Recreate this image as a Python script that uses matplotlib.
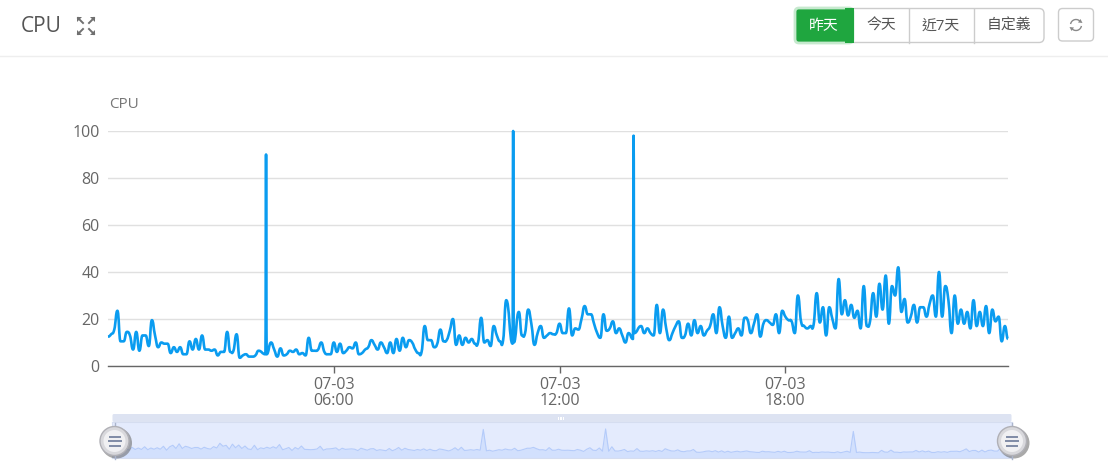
import matplotlib
matplotlib.use('Agg')
import matplotlib.pyplot as plt
import matplotlib.dates as mdates
from matplotlib.patches import FancyBboxPatch, Rectangle, Circle, Arc, Polygon, PathPatch
from matplotlib.path import Path
import numpy as np
import pandas as pd

plt.rcParams['font.family'] = ['Open Sans', 'Noto Sans CJK TC', 'DejaVu Sans']

W, H = 1108, 476

# cpu samples, one every 5 minutes
cpu_values = [
    12.5, 13.5, 15.5, 23.5, 10.5, 10.5, 14.5, 13, 7, 14.5,
    6.5, 13, 13, 8.5, 19.5, 13, 8, 10, 9.5, 9.5,
    5.5, 8, 6, 8, 5, 5, 10.5, 7, 11.5, 7,
    13, 7, 7, 6.5, 7, 4.5, 6, 6, 14.5, 6,
    6.5, 13.5, 3.5, 4.5, 5, 4, 4, 4.5, 6.5, 5,
    90, 5, 10, 7, 4, 7.5, 4.5, 5, 6.5, 6,
    7, 5, 5.5, 4.5, 12, 6.5, 6.5, 7, 10, 6,
    5, 5, 10, 6, 9.5, 5.5, 6.5, 8, 7.5, 10,
    5, 5.5, 7, 8, 11, 9, 7, 10, 8, 5.5,
    10, 5.5, 11.5, 6.5, 12, 8, 11, 10, 7, 5.5,
    6, 17, 11, 11, 8, 9.5, 15.5, 10.5, 11, 15,
    20, 9, 13, 9, 12, 10, 11.5, 9.5, 10, 20.5,
    10, 11, 8.5, 17, 13, 10.5, 11, 28, 9.5, 100,
    10, 23, 13, 14, 24, 18, 9, 14, 17, 12,
    13, 14, 13.5, 14, 18, 14, 14, 24.5, 13, 16,
    15.5, 20, 25.5, 22, 22, 18, 14, 12, 22, 15,
    16, 19, 14, 16, 13, 10, 14, 11.5, 98, 14,
    17, 14, 16, 14, 13, 26, 14, 24, 16, 11,
    14, 17, 19, 12, 13, 18, 13, 19.5, 14, 17,
    13, 15, 17, 22, 14, 25, 17, 12, 21, 12,
    14, 16, 13, 20.5, 19.5, 14, 18, 22, 12.5, 18,
    19.5, 18.5, 17.5, 22, 14, 23.5, 21, 19.5, 19, 14,
    30, 19, 17, 16, 17, 17.5, 31, 18.5, 25, 13,
    25, 20, 16, 37, 22, 28, 21.5, 26, 20.5, 23.5,
    16, 34, 17, 19, 31, 21, 35, 24, 38.5, 18,
    34, 30, 42, 23, 28.5, 18.5, 21, 26, 18.5, 25,
    25, 21, 26.5, 30, 21, 40, 21, 34, 28, 14,
    30, 18, 24, 18, 23, 16, 28, 17, 23, 17,
    25.5, 14, 24, 19, 21, 10.5, 17, 11.5,
]
# the three spikes are logged off the 5 minute grid, with samples tight around them
spike_index = [50, 129, 168]
spike_times = ['2021-07-03 04:12', '2021-07-03 10:46', '2021-07-03 13:58']
y_ticks = [0, 20, 40, 60, 80, 100]
x_tick_times = ['2021-07-03 06:00', '2021-07-03 12:00', '2021-07-03 18:00']
x_tick_labels = ['07-03\n06:00', '07-03\n12:00', '07-03\n18:00']
buttons = ['昨天', '今天', '近7天', '自定義']

times = pd.date_range('2021-07-03 00:00', periods=len(cpu_values), freq='5min').to_series().reset_index(drop=True)
for i, t in zip(spike_index, spike_times):
    t = pd.Timestamp(t)
    times[i - 1], times[i], times[i + 1] = t - pd.Timedelta(minutes=1), t, t + pd.Timedelta(minutes=1)

fig = plt.figure(figsize=(W / 100, H / 100), dpi=100, facecolor='white')


def box(left, top, right, bottom):
    return [left / W, 1 - bottom / H, (right - left) / W, (bottom - top) / H]


def smooth_path(xs, ys):
    # bezier through the samples, flat at every local peak and dip
    xs = np.asarray(xs, dtype=float)
    ys = np.asarray(ys, dtype=float)
    slope = np.zeros(len(ys))
    for i in range(1, len(ys) - 1):
        if (ys[i] - ys[i - 1]) * (ys[i + 1] - ys[i]) > 0:
            slope[i] = (ys[i + 1] - ys[i - 1]) / (xs[i + 1] - xs[i - 1])
    verts = [(xs[0], ys[0])]
    codes = [Path.MOVETO]
    for i in range(len(ys) - 1):
        dx = (xs[i + 1] - xs[i]) * 0.5
        verts += [(xs[i] + dx, ys[i] + slope[i] * dx),
                  (xs[i + 1] - dx, ys[i + 1] - slope[i + 1] * dx),
                  (xs[i + 1], ys[i + 1])]
        codes += [Path.CURVE4] * 3
    return Path(verts, codes)


# main chart
ax = fig.add_axes(box(108, 131, 1008, 366))
ax.xaxis_date()
ax.add_patch(PathPatch(smooth_path(mdates.date2num(times), cpu_values), fc='none', ec='#0a9cf0',
                       lw=1.9, joinstyle='round', clip_on=False, zorder=3))
ax.set_xlim(times.iloc[0], times.iloc[-1])
ax.set_ylim(0, 100)
ax.set_yticks(y_ticks)
ax.set_xticks(pd.to_datetime(x_tick_times))
ax.set_xticklabels(x_tick_labels, linespacing=1.0)
ax.grid(axis='y', color='#e0e0e0', lw=1)
ax.set_axisbelow(True)
ax.tick_params(axis='y', length=0, pad=6, labelsize=11.5, labelcolor='#666666')
ax.tick_params(axis='x', length=5, width=1, color='#666666', pad=3, labelsize=11.5, labelcolor='#666666')
for s in ['top', 'left', 'right']:
    ax.spines[s].set_visible(False)
ax.spines['bottom'].set_color('#666666')
ax.spines['bottom'].set_linewidth(1)

# overview strip, same series in reverse order
mini = fig.add_axes(box(112, 422, 1012, 458), facecolor='#e4ebfd')
order = np.arange(len(cpu_values))
mini.plot(order, cpu_values[::-1], color='#b4cbfa', lw=0.8, zorder=3)
mini.fill_between(order, cpu_values[::-1], -20, color='#d2e0fd', lw=0, zorder=2)
mini.set_xlim(0.6, 287.6)
mini.set_ylim(-17.4, 128)
mini.set_xticks([])
mini.set_yticks([])
for s in mini.spines.values():
    s.set_color('#d5ddf0')
    s.set_linewidth(0.8)

# page furniture in pixel coordinates
ui = fig.add_axes([0, 0, 1, 1], facecolor='none')
ui.set_xlim(0, W)
ui.set_ylim(H, 0)
ui.axis('off')

ui.plot([0, W], [55.5, 55.5], color='#eeeeee', lw=1)
ui.text(21, 27, 'CPU', fontsize=15, color='#555555', va='center', ha='left')
ui.text(109, 104, 'CPU', fontsize=11, color='#777777', va='center', ha='left')

# expand icon
for cx, cy, dx, dy in [(77, 17, 1, 1), (95, 17, -1, 1), (77, 35, 1, -1), (95, 35, -1, -1)]:
    ui.plot([cx + 1 * dx, cx + 6 * dx], [cy + 1 * dy, cy + 6 * dy], color='#707070', lw=1.4)
    ui.add_patch(Polygon([(cx, cy), (cx + 5 * dx, cy), (cx, cy + 5 * dy)], color='#707070', lw=0))

# button group
ui.add_patch(FancyBboxPatch((799, 8.5), 245, 34, boxstyle='round,pad=0,rounding_size=5',
                            fc='white', ec='#cccccc', lw=1))
for x in [908.5, 973.5]:
    ui.plot([x, x], [8.5, 42.5], color='#cccccc', lw=1)
ui.add_patch(FancyBboxPatch((795, 8), 58, 35, boxstyle='round,pad=0,rounding_size=4',
                            fc='#1fa63f', ec='#c6e9ce', lw=2, zorder=3))
ui.add_patch(Rectangle((845, 8), 9, 35, fc='#1fa63f', ec='none', zorder=3))
for label, cx, color in zip(buttons, [824, 881, 941, 1009], ['white', '#555555', '#555555', '#555555']):
    ui.text(cx, 26.5, label, fontsize=10.7, color=color, ha='center', va='center', zorder=4)

# refresh button
ui.add_patch(FancyBboxPatch((1058.5, 8.5), 35, 32.5, boxstyle='round,pad=0,rounding_size=4',
                            fc='white', ec='#cccccc', lw=1))
ui.add_patch(Arc((1076, 25), 11, 11, theta1=190, theta2=320, color='#8a8a8a', lw=1))
ui.add_patch(Arc((1076, 25), 11, 11, theta1=10, theta2=140, color='#8a8a8a', lw=1))
ui.add_patch(Polygon([(1080.5, 19), (1082.5, 23), (1078, 22.5)], color='#8a8a8a', lw=0))
ui.add_patch(Polygon([(1071.5, 31), (1069.5, 27), (1074, 27.5)], color='#8a8a8a', lw=0))

# overview top strip and handles
ui.add_patch(FancyBboxPatch((112.5, 414), 899, 8, boxstyle='round,pad=0,rounding_size=1.5',
                            fc='#dde3f2', ec='none'))
for x in [558.5, 561, 563.5]:
    ui.add_patch(Rectangle((x - 0.7, 416.5), 1.5, 3.5, fc='white', ec='none'))
for cx in [114.5, 1012]:
    ui.add_patch(Circle((cx + 2, 443), 15.5, fc='#707070', ec='none', alpha=0.6, zorder=5))
    ui.plot([cx, cx], [423, 459], color='#aab4cc', lw=1, zorder=5)
    ui.add_patch(Circle((cx, 441), 14.5, fc='#d8d8dc', ec='#b0b0b6', lw=1, zorder=6))
    ui.add_patch(Circle((cx, 441), 11, fc='#f0f0f2', ec='none', zorder=6))
    for y, half in [(436.5, 5), (441, 6), (445.5, 5)]:
        ui.plot([cx - half, cx + half], [y, y], color='#7f8ba5', lw=1.4, zorder=7)

fig.savefig('out.png', dpi=100, facecolor='white')
